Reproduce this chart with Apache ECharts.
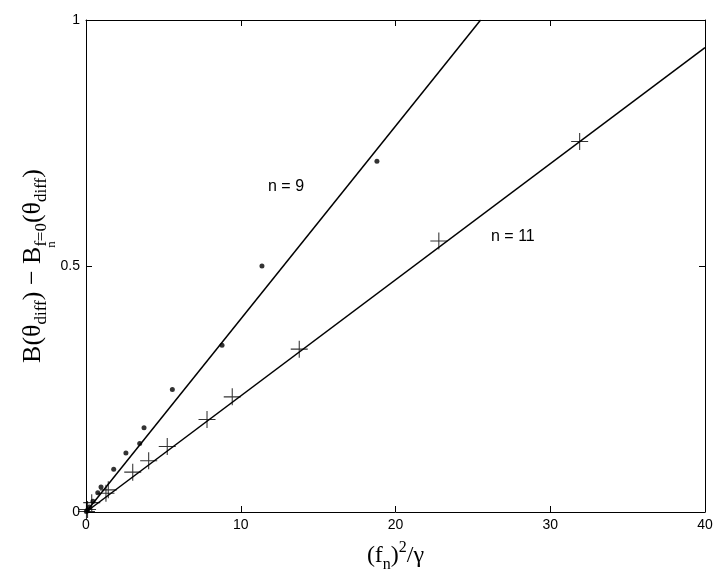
<!DOCTYPE html>
<html>
<head>
<meta charset="utf-8">
<script src="https://cdn.jsdelivr.net/npm/echarts@6/dist/echarts.min.js"></script>
<style>
  html, body { margin: 0; padding: 0; background: #fff; }
  #chart { width: 724px; height: 570px; }
</style>
</head>
<body>
<div id="chart"></div>
<script>
// measured points, n = 9 (dots)
var dots9 = [
    [0.02, 0.001], [0.1, 0.004], [0.22, 0.01], [0.45, 0.022],
    [0.76, 0.039], [0.97, 0.051], [1.79, 0.087], [2.58, 0.12],
    [3.47, 0.139], [3.75, 0.171], [5.58, 0.249], [8.79, 0.339],
    [11.37, 0.5], [18.8, 0.713]
];
// measured points, n = 11 (crosses)
var cross11 = [
    [0.03, 0.001], [0.1, 0.005], [0.37, 0.019], [1.29, 0.038],
    [1.44, 0.045], [3.02, 0.081], [4.05, 0.104], [5.25, 0.133],
    [7.82, 0.188], [9.45, 0.234], [13.78, 0.331], [22.8, 0.551],
    [31.9, 0.753]
];
// fitted straight lines
var fit9 = [[0, 0], [25.5, 1]];
var fit11 = [[0, 0], [40, 0.944]];

var xTicks = [0, 10, 20, 30, 40];
var yTicks = [0, 0.5, 1];

var chart = echarts.init(document.getElementById('chart'));

var serif = 'Liberation Serif';
var sans = 'Liberation Sans';

var crossPath = 'path://M0,7.5h16v1h-16zM7.5,0h1v16h-1z';

function axisCommon(show) {
    return {
        min: 0,
        axisLine: { show: true, onZero: false, lineStyle: { color: '#000', width: 1 } },
        axisTick: { show: true, inside: true, length: 6, lineStyle: { color: '#000' } },
        axisLabel: { show: show, color: '#000', fontFamily: sans, fontSize: 14 },
        splitLine: { show: false }
    };
}

var xBottom = axisCommon(true);
xBottom.type = 'value';
xBottom.position = 'bottom';
xBottom.max = xTicks[xTicks.length - 1];
xBottom.interval = 10;
xBottom.axisLabel.margin = 6;
xBottom.name = '{t|(f}{s|n}{t|)}{p|2}{t|/γ}';
xBottom.nameLocation = 'middle';
xBottom.nameGap = 32;
xBottom.nameMoveOverlap = false;
xBottom.nameTextStyle = {
    rich: {
        t: { fontFamily: serif, fontSize: 24, color: '#000', verticalAlign: 'top', lineHeight: 28 },
        s: { fontFamily: serif, fontSize: 16, color: '#000', verticalAlign: 'top', lineHeight: 28, padding: [13, 0, 0, 0] },
        p: { fontFamily: serif, fontSize: 16, color: '#000', verticalAlign: 'top', lineHeight: 28, padding: [-4, 0, 0, 0] }
    }
};

var xTop = axisCommon(false);
xTop.type = 'value';
xTop.position = 'top';
xTop.max = 40;
xTop.interval = 10;

var yLeft = axisCommon(true);
yLeft.type = 'value';
yLeft.position = 'left';
yLeft.max = yTicks[yTicks.length - 1];
yLeft.interval = 0.5;
yLeft.axisLabel.margin = 6;
yLeft.name = '{t|B(θ}{s|diff}{t|) − B}{s|f }{ss|n}{s|=0}{t|(θ}{s|diff}{t|)}';
yLeft.nameLocation = 'middle';
yLeft.nameRotate = 90;
yLeft.nameGap = 36;
yLeft.nameMoveOverlap = false;
yLeft.nameTextStyle = {
    rich: {
        t: { fontFamily: serif, fontSize: 26, color: '#000', verticalAlign: 'top', lineHeight: 30 },
        s: { fontFamily: serif, fontSize: 17, color: '#000', verticalAlign: 'top', lineHeight: 30, padding: [13, 0, 0, 0] },
        ss: { fontFamily: serif, fontSize: 13, color: '#000', verticalAlign: 'top', lineHeight: 30, padding: [25, 0, 0, -11] }
    }
};

var yRight = axisCommon(false);
yRight.type = 'value';
yRight.position = 'right';
yRight.max = 1;
yRight.interval = 0.5;

var option = {
    animation: false,
    backgroundColor: '#fff',
    grid: { left: 86, right: 19, top: 20, bottom: 58, outerBoundsMode: 'none', containLabel: false },
    xAxis: [xBottom, xTop],
    yAxis: [yLeft, yRight],
    series: [
        {
            type: 'line',
            data: fit9,
            symbol: 'none',
            lineStyle: { color: '#000', width: 1.5 },
            z: 2
        },
        {
            type: 'line',
            data: fit11,
            symbol: 'none',
            lineStyle: { color: '#000', width: 1.5 },
            z: 2
        },
        {
            type: 'scatter',
            data: dots9,
            symbol: 'circle',
            symbolSize: 5,
            itemStyle: { color: '#000' },
            z: 3
        },
        {
            type: 'scatter',
            data: cross11,
            symbol: crossPath,
            symbolSize: 17,
            itemStyle: { color: '#000' },
            z: 3
        }
    ],
    graphic: [
        {
            type: 'text', left: 268, top: 179,
            style: { text: 'n = 9', font: '16px "Liberation Sans"', fill: '#000' }
        },
        {
            type: 'text', left: 491, top: 229,
            style: { text: 'n = 11', font: '16px "Liberation Sans"', fill: '#000' }
        }
    ]
};

chart.setOption(option);
window.addEventListener('resize', function () {
    chart.resize();
});
</script>
</body>
</html>
